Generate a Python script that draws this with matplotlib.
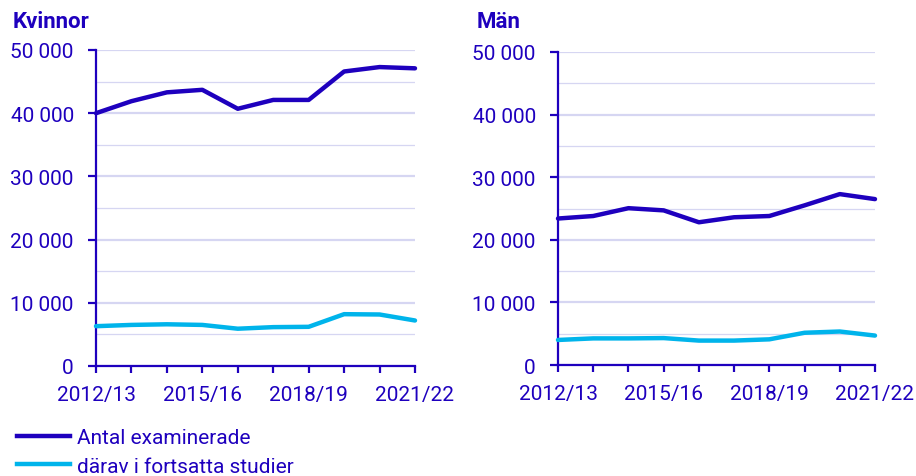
import matplotlib.pyplot as plt
from matplotlib.ticker import FuncFormatter, MultipleLocator
from matplotlib.lines import Line2D

plt.rcParams['font.family'] = ['Roboto', 'DejaVu Sans']

years = ['2012/13', '2013/14', '2014/15', '2015/16', '2016/17',
         '2017/18', '2018/19', '2019/20', '2020/21', '2021/22']
kvinnor_exam = [40000, 41900, 43300, 43700, 40700, 42100, 42100, 46600, 47300, 47100]
kvinnor_fort = [6300, 6500, 6600, 6500, 5900, 6150, 6200, 8200, 8150, 7200]
man_exam = [23400, 23800, 25050, 24700, 22800, 23600, 23800, 25500, 27300, 26500]
man_fort = [4000, 4250, 4250, 4300, 3900, 3900, 4100, 5150, 5350, 4700]
series_labels = ['Antal examinerade', 'därav i fortsatta studier']
titles = ['Kvinnor', 'Män']

dark = '#1E00BE'
light = '#00B4EB'
grid_c = '#D6D6F2'

fig = plt.figure(figsize=(9.16, 4.77), dpi=100)
ax1 = fig.add_axes([96 / 916, 1 - 367 / 477, (415 - 96) / 916, (367 - 51) / 477])
ax2 = fig.add_axes([558 / 916, 1 - 366 / 477, (875 - 558) / 916, (366 - 53) / 477])

fmt = FuncFormatter(lambda v, p: f'{int(v):,}'.replace(',', ' '))
x = list(range(len(years)))

for ax, exam, fort in [(ax1, kvinnor_exam, kvinnor_fort),
                       (ax2, man_exam, man_fort)]:
    ax.plot(x, exam, color=dark, lw=3.2, clip_on=False, zorder=3, solid_capstyle='round')
    ax.plot(x, fort, color=light, lw=3.2, clip_on=False, zorder=3, solid_capstyle='round')
    ax.set_xlim(0, len(years) - 1)
    ax.set_ylim(0, 50000)
    ax.yaxis.set_major_locator(MultipleLocator(10000))
    ax.yaxis.set_minor_locator(MultipleLocator(5000))
    ax.yaxis.set_major_formatter(fmt)
    ax.set_xticks(x)
    ax.set_xticklabels([y if i % 3 == 0 else '' for i, y in enumerate(years)])
    ax.grid(axis='y', which='major', color=grid_c, lw=1.6)
    ax.grid(axis='y', which='minor', color=grid_c, lw=0.9)
    ax.set_axisbelow(True)
    for s in ['top', 'right']:
        ax.spines[s].set_visible(False)
    for s in ['left', 'bottom']:
        ax.spines[s].set_color(dark)
        ax.spines[s].set_linewidth(1.6)
    ax.tick_params(axis='y', which='major', colors=dark, length=5.5, width=1.6,
                   labelsize=15, pad=10.5)
    ax.tick_params(axis='y', which='minor', length=0)
    ax.tick_params(axis='x', colors=dark, length=5, width=1.6, labelsize=15, pad=9)

fig.text(13 / 916, 1 - 22 / 477, titles[0], color=dark, fontsize=16,
         fontweight='bold', va='center', ha='left')
fig.text(477 / 916, 1 - 22 / 477, titles[1], color=dark, fontsize=16,
         fontweight='bold', va='center', ha='left')

handles = [Line2D([0], [0], color=dark, lw=3.2),
           Line2D([0], [0], color=light, lw=3.2)]
fig.legend(handles, series_labels, loc='upper left',
           bbox_to_anchor=(9 / 916, 1 - 421 / 477), frameon=False,
           fontsize=15, labelcolor=dark, handlelength=2.55, handletextpad=0.3,
           labelspacing=0.45, borderaxespad=0)

fig.savefig('out.png', dpi=100)
